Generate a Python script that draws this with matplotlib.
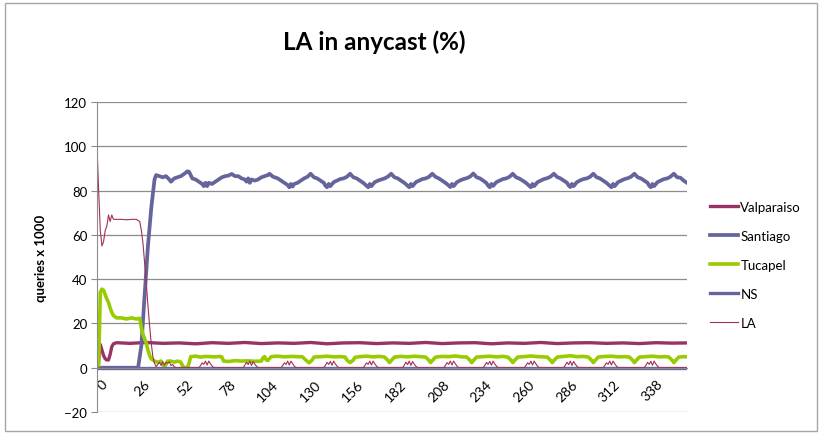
import matplotlib
matplotlib.use("Agg")
import matplotlib.pyplot as plt
from matplotlib.patches import Rectangle
import matplotlib.transforms as mtransforms

plt.rcParams['font.family'] = ['Lato', 'DejaVu Sans']

# hours since start
valp_x = [0, 1, 2, 3, 4, 5, 6, 7, 8, 9, 10, 12, 20, 30, 40, 50, 60, 70, 80, 90, 100, 110, 120,
          130, 140, 150, 160, 170, 180, 190, 200, 210, 220, 230, 240, 250, 260, 270, 280, 290,
          300, 310, 320, 330, 340, 350, 359]
valp_y = [0, 3, 10.5, 8, 5.5, 4, 3.5, 3.5, 6, 9.5, 10.8, 11.3, 11, 11.4, 11, 11.2, 10.8, 11.3,
          11, 11.4, 10.9, 11.2, 11, 11.4, 10.8, 11.2, 11.3, 10.9, 11.2, 11, 11.4, 10.9, 11.2,
          11.3, 10.8, 11.2, 11, 11.4, 10.9, 11.2, 11.3, 11, 11.2, 10.9, 11.3, 11.1, 11.2]

sant_x = [0, 25, 27, 29, 31, 33, 35, 36, 38, 40, 42, 44, 45, 47, 49, 51, 53, 55, 56, 57, 58, 60,
          62, 64, 65, 66, 67, 68, 70, 72, 74, 76, 78, 80, 82, 84, 86, 88, 90, 91, 92, 93, 94, 96,
          98, 100, 102, 104, 105, 107, 110, 112, 114, 116, 117, 118, 119, 120, 122, 124, 126, 128,
          130, 132, 134, 136, 138, 139, 140, 141, 142, 144, 146, 148, 150, 152, 154,
          156, 158, 160, 162, 164, 165, 166, 167, 169, 171, 173, 175, 177, 179,
          181, 183, 185, 187, 189, 190, 191, 192, 194, 196, 198, 200, 202, 204,
          206, 208, 210, 212, 214, 215, 216, 217, 219, 221, 223, 225, 227, 229,
          231, 233, 235, 237, 238, 239, 240, 241, 243, 245, 247, 249, 251, 253,
          255, 257, 259, 261, 263, 264, 265, 266, 268, 270, 272, 274, 276, 278,
          280, 282, 284, 286, 287, 288, 289, 290, 292, 294, 296, 298, 300, 302,
          304, 306, 308, 310, 312, 313, 314, 315, 317, 319, 321, 323, 325, 327,
          329, 331, 333, 335, 336, 337, 338, 339, 341, 343, 345, 347, 349, 351,
          353, 355, 357, 359]
sant_y = [0, 0, 10, 33, 55, 72, 85, 87, 86.5, 86, 86.5, 85, 84, 85.5, 86, 86.5, 87.5, 88.7, 88.5,
          87, 85.5, 85, 84, 83, 82, 83.5, 82, 83.5, 83, 84, 85, 86, 86.5, 86.8, 87.5, 86.5, 86.5,
          85.5, 85, 84, 85.5, 83.5, 85, 84.5, 85, 86, 86.5, 87, 87.6, 86.3, 85.5, 84.5, 83.5,
          82.5, 81.5, 83, 81.8, 83, 83.5, 84.5, 85.5, 86.2,
          87.6, 86, 85.5, 84.5, 83.5, 82.2, 81.5, 83, 82, 83.8, 84.5, 85.2, 85.5, 86.2, 87.6,
          86, 85.5, 84.5, 83.5, 82.2, 81.5, 83, 82, 83.8, 84.5, 85, 85.5, 86.3, 87.6,
          86, 85.5, 84.5, 83.5, 82.2, 81.5, 83, 82, 83.8, 84.5, 85.2, 85.5, 86.2, 87.6,
          86.2, 85.5, 84.5, 83.5, 82.3, 81.6, 83, 82, 83.8, 84.6, 85.2, 85.6, 86.3, 87.7,
          86, 85.5, 84.5, 83.4, 82.2, 81.5, 83, 82.1, 83.8, 84.5, 85.2, 85.5, 86.2, 87.6,
          86, 85.4, 84.5, 83.5, 82.2, 81.5, 83, 82, 83.8, 84.5, 85.2, 85.6, 86.3, 87.6,
          86.1, 85.5, 84.5, 83.5, 82.3, 81.6, 83, 82, 83.8, 84.6, 85.2, 85.5, 86.2, 87.6,
          86, 85.5, 84.5, 83.5, 82.2, 81.5, 83, 82, 83.8, 84.5, 85.2, 85.6, 86.3, 87.6,
          86, 85.5, 84.5, 83.5, 82.2, 81.5, 83, 82, 83.8, 84.5, 85.2, 85.5, 86.3, 87.6,
          86, 85.8, 84.5, 83.5]

tuca_x = [0, 1, 2, 3, 4, 5, 6, 7, 8, 9, 10, 12, 15, 18, 21, 24, 26, 27, 28, 29, 30, 31, 32, 33,
          35, 37, 39, 40, 41, 42, 43, 45, 47, 49, 51, 52, 53, 55, 56, 57, 60, 63, 66, 69, 72, 75,
          76, 77, 80, 84, 88, 92, 96, 100, 101, 102, 103, 104, 106, 110, 114, 118, 122, 125, 127,
          129, 131, 132, 136, 140, 144, 148, 151, 152, 154, 156, 157, 160, 164, 168, 172, 175,
          177, 178, 179, 181, 185, 189, 193, 197, 200, 202, 203, 204, 206, 210, 214, 218, 222,
          225, 227, 228, 229, 231, 235, 239, 243, 247, 250, 252, 253, 254, 256, 260, 264, 268,
          272, 274, 276, 277, 278, 280, 284, 288, 292, 296, 299, 301, 302, 303, 305, 309, 313,
          317, 321, 324, 326, 327, 328, 330, 334, 338, 342, 346, 348, 350, 351, 352, 354, 357, 359]
tuca_y = [0, 0, 34, 35.5, 35, 33, 31, 29.5, 27, 25, 23.5, 22.5, 22.5, 22, 22.5, 22, 22.3, 18, 15,
          13, 11, 8, 5.5, 4, 3, 2.5, 3, 1.5, 0.5, 1.5, 3, 3, 2.5, 3, 2.5, 1, 0, 0, 2, 5, 5.2, 4.8,
          5.1, 5, 4.9, 5.1, 4.8, 3, 2.8, 3.2, 3, 3.1, 2.9, 3, 4.5, 5, 3.5, 3.3, 5, 5.2, 4.9, 5.1,
          5, 4.9, 3.5, 2.2, 3.5, 4.8, 5, 5.2, 4.9, 5, 4.8, 3.5, 2.3, 3.5, 4.7, 5, 5.2, 4.9, 5.1,
          4.8, 3.3, 2.3, 3.2, 4.8, 5.1, 4.9, 5.2, 5, 4.8, 3.3, 2.3, 3.2, 4.8, 5.1, 5, 5.3, 4.9,
          4.8, 3.3, 2.3, 3.2, 4.8, 5, 5.2, 4.9, 5.1, 4.8, 3.3, 2.3, 3.2, 4.8, 5, 5.3, 5, 4.9,
          4.8, 3.3, 2.3, 3.2, 4.8, 5.1, 5.4, 5, 5.1, 4.8, 3.3, 2.3, 3.2, 4.8, 5.1, 5.2, 4.9, 5,
          4.8, 3.3, 2.3, 3.2, 4.8, 5, 5.2, 4.9, 5, 4.8, 3.3, 2.3, 3.2, 4.8, 5, 4.9]

ns_x = [0, 359]
ns_y = [0, 0]

la_x = [0, 1, 2, 3, 4, 5, 6, 7, 8, 9, 10, 12, 15, 18, 21, 24, 26, 27, 28, 29, 30, 31, 32, 33,
        34, 35, 36, 37, 38, 39, 40, 41, 42, 43, 44, 45, 46, 47, 48,
        62, 63, 64, 65, 66, 67, 68, 69, 70, 71,
        89, 90, 91, 92, 93, 94, 95, 96, 97, 98,
        112, 113, 114, 115, 116, 117, 118, 119, 120, 121,
        138, 139, 140, 141, 142, 143, 144, 145, 146, 147,
        162, 163, 164, 165, 166, 167, 168, 169, 170, 171,
        186, 187, 188, 189, 190, 191, 192, 193, 194, 195,
        211, 212, 213, 214, 215, 216, 217, 218, 219, 220,
        235, 236, 237, 238, 239, 240, 241, 242, 243, 244,
        260, 261, 262, 263, 264, 265, 266, 267, 268, 269,
        284, 285, 286, 287, 288, 289, 290, 291, 292, 293,
        308, 309, 310, 311, 312, 313, 314, 315, 316, 317,
        333, 334, 335, 336, 337, 338, 339, 340, 341, 342, 359]
la_y = [100, 80, 62, 55, 57, 62, 64, 69, 66, 69, 67, 67, 67, 66.8, 67, 67, 66, 62, 56, 47, 38, 28,
        19, 11, 5, 2, 0.5, 1.5, 2.5, 1, 2.7, 1.2, 2.5, 2, 2.7, 1, 1.5, 0.5, 0,
        0, 1, 2.2, 1.5, 3, 1.2, 3, 1.8, 0.8, 0,
        0, 1.2, 2.5, 1.4, 3, 1, 2.8, 1.6, 0.7, 0,
        0, 1, 2.2, 1.5, 3, 1.2, 3, 1.8, 0.8, 0,
        0, 1.1, 2.4, 1.5, 2.9, 1.1, 3, 1.7, 0.8, 0,
        0, 1, 2.2, 1.5, 3, 1.2, 3, 1.8, 0.8, 0,
        0, 1.2, 2.5, 1.4, 3, 1, 2.8, 1.6, 0.7, 0,
        0, 1, 2.3, 1.5, 3, 1.2, 3, 1.8, 0.8, 0,
        0, 1.1, 2.4, 1.5, 2.9, 1.1, 3, 1.7, 0.8, 0,
        0, 1, 2.2, 1.5, 3, 1.2, 3, 1.8, 0.8, 0,
        0, 1.2, 2.5, 1.4, 3, 1, 2.8, 1.6, 0.7, 0,
        0, 1, 2.2, 1.5, 3, 1.2, 3, 1.8, 0.8, 0,
        0, 1.1, 2.4, 1.5, 2.9, 1.1, 3, 1.7, 0.8, 0, 0]

x_ticks = list(range(0, 339, 26))
y_ticks = [-20, 0, 20, 40, 60, 80, 100, 120]

fig = plt.figure(figsize=(8.2, 4.39), dpi=100)
ax = fig.add_axes([97 / 820, 1 - 413 / 439, 590 / 820, 310 / 439])

# chart frame
fig.patches.append(Rectangle((5 / 820, 1 - 432 / 439), 812 / 820, 428 / 439,
                             transform=fig.transFigure, fill=False,
                             edgecolor='#A6A6A6', linewidth=1))

ax.plot(valp_x, valp_y, color='#993366', lw=2.4, label='Valparaiso', solid_joinstyle='round')
ax.plot(sant_x, sant_y, color='#65659C', lw=2.7, label='Santiago', solid_joinstyle='round')
ax.plot(tuca_x, tuca_y, color='#99CC00', lw=2.6, label='Tucapel', solid_joinstyle='round')
ax.plot(ns_x, ns_y, color='#65659C', lw=2.4, label='NS')
ax.plot(la_x, la_y, color='#A3304F', lw=0.8, label='LA')

ax.set_xlim(0, 359)
ax.set_ylim(-20, 120)

ax.grid(axis='y', color='#8C8C8C', lw=0.9)
ax.set_axisbelow(True)
for s in ['top', 'right']:
    ax.spines[s].set_visible(False)
ax.spines['left'].set_color('#8C8C8C')
ax.spines['bottom'].set_color('#8C8C8C')
ax.spines['bottom'].set_position(('data', 0))
ax.tick_params(axis='y', length=4, color='#8C8C8C', labelsize=9.5, pad=3)
ax.tick_params(axis='x', length=0, labelsize=10, pad=7)

ax.set_yticks(y_ticks)
ax.set_xticks(x_ticks)
ax.set_xticklabels([str(t) for t in x_ticks])
# rotated labels, top-right corner at the tick like Excel
offset = mtransforms.ScaledTranslation(4 / 100, 0, fig.dpi_scale_trans)
for lbl in ax.get_xticklabels():
    lbl.set_rotation(45)
    lbl.set_ha('right')
    lbl.set_va('top')
    lbl.set_rotation_mode('anchor')
    lbl.set_transform(lbl.get_transform() + offset)

ax.set_ylabel('queries x 1000', fontsize=9.5, fontweight='bold')
ax.yaxis.set_label_coords(-0.085, 0.5)

fig.text(374 / 820, 1 - 42 / 439, 'LA in anycast (%)', ha='center', va='center',
         fontsize=17.5, fontweight='bold')

fig.legend(loc='upper left', bbox_to_anchor=(710 / 820, 1 - 202 / 439), frameon=False,
           fontsize=9.5, handlelength=2.1, handletextpad=0.2, labelspacing=1.28,
           borderpad=0, borderaxespad=0)

fig.savefig('out.png', dpi=100)
